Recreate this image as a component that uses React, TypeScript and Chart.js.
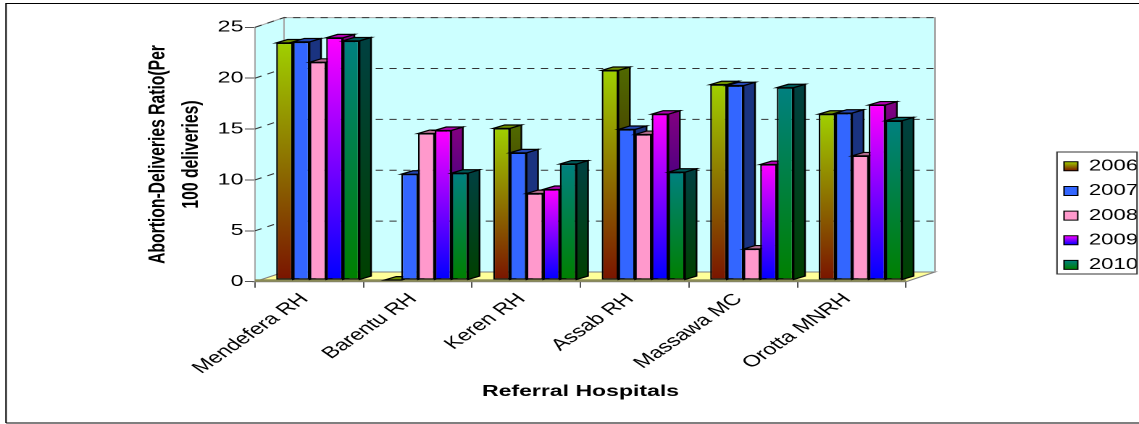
import React, { useEffect, useRef } from "react";
import { Chart, registerables } from "chart.js";

Chart.register(...registerables);

const hospitals = ["Mendefera RH", "Barentu RH", "Keren RH", "Assab RH", "Massawa MC", "Orotta MNRH"];
const years = ["2006", "2007", "2008", "2009", "2010"];
const ratio2006 = [23.3, 0, 14.9, 20.6, 19.2, 16.3];
const ratio2007 = [23.4, 10.4, 12.5, 14.8, 19.1, 16.4];
const ratio2008 = [21.4, 14.4, 8.5, 14.3, 3.05, 12.2];
const ratio2009 = [23.8, 14.7, 8.9, 16.3, 11.35, 17.2];
const ratio2010 = [23.5, 10.5, 11.4, 10.6, 18.9, 15.65];
const seriesValues = [ratio2006, ratio2007, ratio2008, ratio2009, ratio2010];

// Front face gradients, top colour then bottom colour.
const frontColours = [
  ["#A0D000", "#7A1400"],
  ["#3366FF", "#3366FF"],
  ["#FF99CC", "#FF99CC"],
  ["#FF00FF", "#0000FF"],
  ["#008080", "#008000"],
];

const PAGE_W = 1139;
const PAGE_H = 424;
const LOGICAL_W = 786;
const SX = PAGE_W / LOGICAL_W; // text and shapes are drawn wide, as in an old spreadsheet export
const sx = (v: number) => v / SX;

const AREA = { left: sx(255), right: sx(906), top: 27.3, bottom: 281.7 };
const WALL_DX = sx(29);
const WALL_DY = 9.7;
const BAR_SHIFT_X = sx(8.6);
const BAR_SHIFT_Y = -1.7;
const BAR_DX = sx(11.5);
const BAR_DY = 3.4;
const FACE_LINE = 1.2;
const FONT = "'Liberation Sans', Arial, sans-serif";

const LEGEND_BOX = { left: sx(1057), right: sx(1137), top: 152, bottom: 274 };
const LEGEND_FONT = 15.3;
const LEGEND_PAD = 9.35;
const LEGEND_SWATCH_H = 9;
const LEGEND_TOP = 149.3;
const LEGEND_RESERVED_W = 1;

function shade(hex: string, k: number) {
  const n = parseInt(hex.slice(1), 16);
  const c = [(n >> 16) & 255, (n >> 8) & 255, n & 255].map((v) => Math.round(v * k));
  return `rgb(${c[0]},${c[1]},${c[2]})`;
}

function verticalGradient(ctx: CanvasRenderingContext2D, y0: number, y1: number, a: string, b: string) {
  const g = ctx.createLinearGradient(0, y0, 0, y1);
  g.addColorStop(0, a);
  g.addColorStop(1, b);
  return g;
}

function polygon(ctx: CanvasRenderingContext2D, pts: number[][], fill: any, stroke?: string) {
  ctx.beginPath();
  pts.forEach(([x, y], i) => (i ? ctx.lineTo(x, y) : ctx.moveTo(x, y)));
  ctx.closePath();
  ctx.fillStyle = fill;
  ctx.fill();
  if (stroke) {
    ctx.strokeStyle = stroke;
    ctx.stroke();
  }
}

// Back wall, side wall, floor and dashed value lines.
function drawRoom(chart: any) {
  const { ctx, chartArea } = chart;
  const { left, right, top, bottom } = chartArea;
  const yScale = chart.scales.y;
  ctx.save();
  ctx.lineWidth = 1;
  polygon(ctx, [[left + WALL_DX, top - WALL_DY], [right + WALL_DX, top - WALL_DY], [right + WALL_DX, bottom - WALL_DY], [left + WALL_DX, bottom - WALL_DY]], "#CCFFFF", "#A6A6A6");
  polygon(ctx, [[left, top], [left + WALL_DX, top - WALL_DY], [left + WALL_DX, bottom - WALL_DY], [left, bottom]], "#CCFFFF", "#A6A6A6");
  polygon(ctx, [[left, bottom], [right, bottom], [right + WALL_DX, bottom - WALL_DY], [left + WALL_DX, bottom - WALL_DY]], "#FFFF99", "#808080");
  ctx.strokeStyle = "#A6A6A6";
  ctx.lineWidth = 1.4;
  ctx.beginPath();
  ctx.moveTo(right + WALL_DX, top - WALL_DY);
  ctx.lineTo(right + WALL_DX, bottom - WALL_DY);
  ctx.stroke();
  ctx.fillStyle = "#8A8A55";
  ctx.fillRect(left, bottom - 2.4, right - left, 2.4);
  ctx.lineWidth = 1;
  ctx.strokeStyle = "#333333";
  ctx.setLineDash([5, 4.5]);
  yScale.ticks.forEach((tick: any) => {
    if (tick.value === 0) return;
    const y = yScale.getPixelForValue(tick.value);
    ctx.beginPath();
    ctx.moveTo(left, y);
    ctx.lineTo(left + WALL_DX, y - WALL_DY);
    ctx.lineTo(right + WALL_DX, y - WALL_DY);
    ctx.stroke();
  });
  ctx.restore();
}

// Side and top faces of one series' bars, in the darker tones of the series colour.
function drawDepthFaces(chart: any, index: number) {
  const { ctx } = chart;
  const [topColour, bottomColour] = frontColours[index];
  ctx.lineWidth = FACE_LINE;
  chart.getDatasetMeta(index).data.forEach((bar: any) => {
    const { x, y, base, width } = bar.getProps(["x", "y", "base", "width"], true);
    const l = x - width / 2;
    const r = x + width / 2;
    const side = verticalGradient(ctx, y, base, shade(topColour, 0.5), shade(bottomColour, 0.5));
    polygon(ctx, [[r, y], [r, base], [r + BAR_DX, base - BAR_DY], [r + BAR_DX, y - BAR_DY]], side, "#000000");
    polygon(ctx, [[l, y], [r, y], [r + BAR_DX, y - BAR_DY], [l + BAR_DX, y - BAR_DY]], shade(topColour, 0.7), "#000000");
  });
}

const extrudedBars = {
  id: "extrudedBars",
  beforeDraw(chart: any) {
    const { ctx } = chart;
    ctx.save();
    ctx.fillStyle = "#FFFFFF";
    ctx.fillRect(0, 0, chart.width, chart.height);
    ctx.strokeStyle = "#000000";
    ctx.lineWidth = 1;
    ctx.beginPath();
    ctx.moveTo(sx(6), 423);
    ctx.lineTo(sx(6), 3.5);
    ctx.lineTo(chart.width, 3.5);
    ctx.moveTo(sx(6), 423);
    ctx.lineTo(chart.width, 423);
    ctx.stroke();
    ctx.restore();
  },
  afterLayout(chart: any) {
    // The legend reserves almost no width; it is placed in its own frame on the right.
    const legend = chart.legend;
    legend.left = LEGEND_BOX.left - LEGEND_PAD + sx(7);
    legend.right = LEGEND_BOX.right;
    legend.top = LEGEND_TOP;
    // Tall enough for all rows to stay in a single column.
    legend.bottom = LEGEND_TOP + LEGEND_PAD * 2 + years.length * (LEGEND_FONT + LEGEND_PAD);
    legend.width = legend.right - legend.left;
    legend.height = legend.bottom - legend.top;
  },
  beforeDatasetsDraw(chart: any) {
    const { ctx } = chart;
    drawRoom(chart);
    // Series are painted left to right so nearer bars cover their neighbours' side faces.
    ctx.save();
    ctx.translate(BAR_SHIFT_X, BAR_SHIFT_Y);
    seriesValues.forEach((_, i) => {
      chart.getDatasetMeta(i).controller.draw();
      drawDepthFaces(chart, i);
    });
    ctx.restore();
    return false;
  },
  afterDraw(chart: any) {
    const { ctx } = chart;
    ctx.save();
    ctx.strokeStyle = "#333333";
    ctx.lineWidth = 1;
    ctx.strokeRect(LEGEND_BOX.left, LEGEND_BOX.top, LEGEND_BOX.right - LEGEND_BOX.left, LEGEND_BOX.bottom - LEGEND_BOX.top);
    ctx.restore();
  },
};

export default function App() {
  const canvasRef = useRef<HTMLCanvasElement>(null);

  useEffect(() => {
    const canvas = canvasRef.current!;
    const chart = new Chart(canvas, {
      type: "bar",
      data: {
        labels: hospitals,
        datasets: years.map((year, i) => ({
          label: year,
          data: seriesValues[i],
          borderColor: "#000000",
          borderWidth: FACE_LINE,
          borderSkipped: false,
          categoryPercentage: 0.768,
          barPercentage: 1,
          backgroundColor: (c: any) => {
            const y = c.chart.scales.y;
            if (!y || c.raw === undefined) return frontColours[i][0];
            return verticalGradient(c.chart.ctx, y.getPixelForValue(c.raw), y.getPixelForValue(0), frontColours[i][0], frontColours[i][1]);
          },
        })),
      },
      plugins: [extrudedBars],
      options: {
        responsive: false,
        animation: false,
        devicePixelRatio: 2,
        events: [],
        layout: {
          padding: { left: 96, top: AREA.top, right: LOGICAL_W - AREA.right - LEGEND_RESERVED_W, bottom: 20 },
        },
        plugins: {
          tooltip: { enabled: false },
          legend: {
            position: "right",
            align: "start",
            maxWidth: LEGEND_RESERVED_W,
            labels: {
              boxWidth: 9.5,
              boxHeight: LEGEND_SWATCH_H,
              padding: LEGEND_PAD,
              color: "#000000",
              font: { family: FONT, size: LEGEND_FONT },
              generateLabels: (c: any) =>
                years.map((year, i) => {
                  const yBox = LEGEND_TOP + LEGEND_PAD + i * (LEGEND_FONT + LEGEND_PAD) + (LEGEND_FONT - LEGEND_SWATCH_H) / 2;
                  return {
                    text: year,
                    datasetIndex: i,
                    hidden: false,
                    lineWidth: 1,
                    strokeStyle: "#000000",
                    fillStyle: verticalGradient(c.ctx, yBox, yBox + LEGEND_SWATCH_H, frontColours[i][0], frontColours[i][1]),
                  };
                }),
            },
          },
        },
        scales: {
          x: {
            afterFit: (s: any) => {
              s.height = 424 - 20 - AREA.bottom;
            },
            grid: { offset: true, drawOnChartArea: false, tickLength: 6, tickColor: "#555555", tickWidth: 1 },
            border: { display: true, color: "#444444", width: 1 },
            ticks: {
              autoSkip: false,
              minRotation: 45,
              maxRotation: 45,
              padding: 2,
              labelOffset: -3.2,
              color: "#000000",
              font: { family: FONT, size: 16.2 },
            },
            title: {
              display: true,
              text: "Referral Hospitals",
              color: "#000000",
              font: { family: FONT, size: 15.9, weight: "bold" },
              padding: { top: 0, bottom: 3 },
            },
          },
          y: {
            min: 0,
            max: 25,
            afterFit: (s: any) => {
              s.width = AREA.left - 96;
            },
            grid: { drawOnChartArea: false, tickLength: 7, tickColor: "#555555", tickWidth: 1 },
            border: { display: true, color: "#444444", width: 1 },
            ticks: {
              stepSize: 5,
              padding: 1,
              color: "#000000",
              font: { family: FONT, size: 16 },
            },
            title: {
              display: true,
              text: ["Abortion-Deliveries Ratio(Per", "100 deliveries)"],
              color: "#000000",
              font: { family: FONT, size: 15.7, weight: "bold", lineHeight: 1.45 },
              padding: { top: 1.9, bottom: 0 },
            },
          },
        },
      },
    } as any);
    return () => chart.destroy();
  }, []);

  return (
    <div style={{ position: "fixed", left: 0, top: 0, width: PAGE_W, height: PAGE_H, background: "#FFFFFF", overflow: "hidden" }}>
      <canvas
        ref={canvasRef}
        width={LOGICAL_W}
        height={PAGE_H}
        style={{ display: "block", width: PAGE_W, height: PAGE_H }}
      />
    </div>
  );
}
